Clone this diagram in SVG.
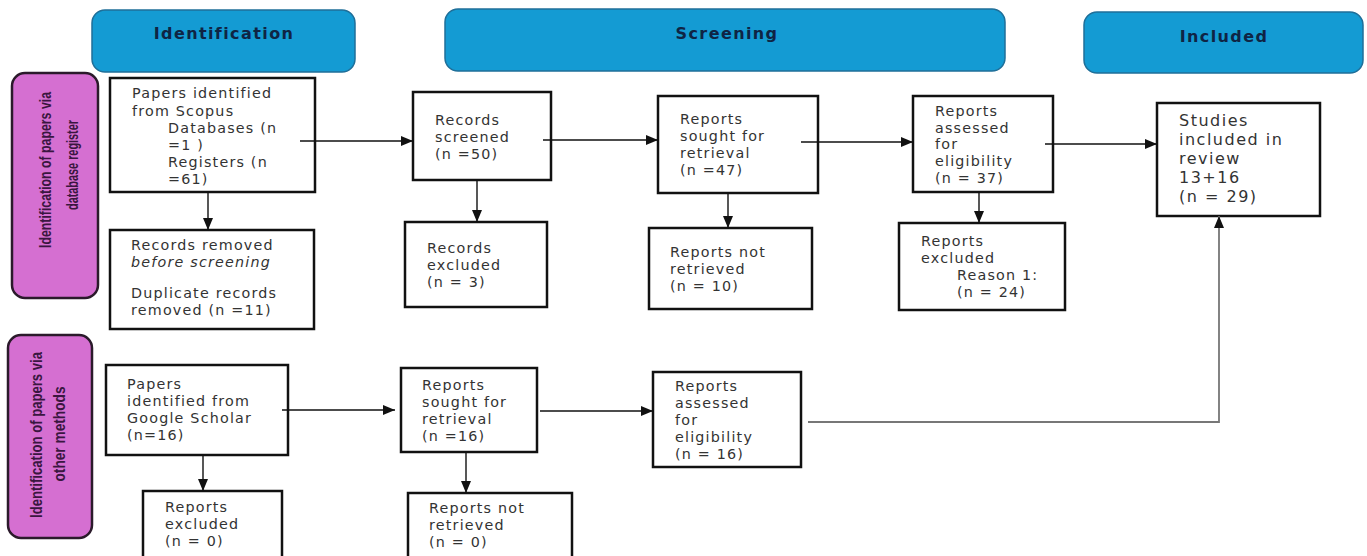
<svg xmlns="http://www.w3.org/2000/svg" width="1367" height="556" viewBox="0 0 1367 556">
<defs>
<style>
.hdr{fill:#149bd3;stroke:#1f6f99;stroke-width:1.5}
.hdrt{font-family:"DejaVu Sans",sans-serif;font-weight:bold;font-size:16px;fill:#0f2444;text-anchor:middle;letter-spacing:1.4px}
.side{fill:#d56fd1;stroke:#2b1a2b;stroke-width:2.5}
.sidet{font-family:"Liberation Sans",sans-serif;font-weight:bold;font-size:17px;fill:#3a1640;text-anchor:middle}
.sideb{font-family:"Liberation Sans",sans-serif;font-weight:bold;font-size:16px;fill:#3a1640;text-anchor:middle}
.box{fill:#fff;stroke:#111;stroke-width:2.5}
.t{font-family:"DejaVu Sans",sans-serif;font-size:14.3px;fill:#333;letter-spacing:1.2px}
.tl{font-family:"DejaVu Sans",sans-serif;font-size:16px;fill:#333;letter-spacing:1.5px}
.c{fill:none;stroke:#111;stroke-width:1.4}
.cg{fill:none;stroke:#777;stroke-width:1.8}
</style>
<marker id="ah" markerWidth="12" markerHeight="10" refX="12" refY="5" orient="auto" markerUnits="userSpaceOnUse">
<path d="M0,0 L12,5 L0,10 Z" fill="#111"/>
</marker>
</defs>
<rect width="1367" height="556" fill="#fff"/>

<g id="hdr-identification">
<rect class="hdr" x="92" y="10" width="263" height="62" rx="13"/>
<text class="hdrt" x="224" y="39">Identification</text>
</g>
<g id="hdr-screening">
<rect class="hdr" x="445" y="9" width="560" height="62" rx="13"/>
<text class="hdrt" x="727" y="39">Screening</text>
</g>
<g id="hdr-included">
<rect class="hdr" x="1084" y="12" width="279" height="61" rx="13"/>
<text class="hdrt" x="1224" y="42">Included</text>
</g>

<g id="side-database">
<rect class="side" x="12" y="73" width="86" height="225" rx="13"/>
<text class="sidet" transform="translate(51,170) rotate(-90)" textLength="156" lengthAdjust="spacingAndGlyphs">Identification of papers via</text>
<text class="sidet" transform="translate(78,165) rotate(-90)" textLength="90" lengthAdjust="spacingAndGlyphs">database register</text>
</g>
<g id="side-other">
<rect class="side" x="8" y="335" width="84" height="203" rx="13"/>
<text class="sideb" transform="translate(42,435) rotate(-90)" textLength="166" lengthAdjust="spacingAndGlyphs">Identification of papers via</text>
<text class="sideb" transform="translate(65,434) rotate(-90)" textLength="95" lengthAdjust="spacingAndGlyphs">other methods</text>
</g>

<g id="n-scopus">
<rect class="box" x="110" y="78" width="205" height="114"/>
<text class="t" x="132" y="98">Papers identified</text>
<text class="t" x="132" y="116">from Scopus</text>
<text class="t" x="168" y="133">Databases (n</text>
<text class="t" x="168" y="150">=1 )</text>
<text class="t" x="168" y="167">Registers (n</text>
<text class="t" x="168" y="184">=61)</text>
</g>
<g id="n-removed">
<rect class="box" x="110" y="230" width="204" height="99"/>
<text class="t" x="131" y="250">Records removed</text>
<text class="t" x="131" y="267" font-style="italic">before screening</text>
<text class="t" x="131" y="298">Duplicate records</text>
<text class="t" x="131" y="315">removed (n =11)</text>
</g>
<g id="n-screened">
<rect class="box" x="413" y="92" width="138" height="88"/>
<text class="t" x="435" y="125">Records</text>
<text class="t" x="435" y="142">screened</text>
<text class="t" x="435" y="159">(n =50)</text>
</g>
<g id="n-rec-excluded">
<rect class="box" x="405" y="222" width="142" height="85"/>
<text class="t" x="427" y="253">Records</text>
<text class="t" x="427" y="270">excluded</text>
<text class="t" x="427" y="287">(n = 3)</text>
</g>
<g id="n-sought47">
<rect class="box" x="658" y="96" width="160" height="97"/>
<text class="t" x="680" y="124">Reports</text>
<text class="t" x="680" y="141">sought for</text>
<text class="t" x="680" y="158">retrieval</text>
<text class="t" x="680" y="175">(n =47)</text>
</g>
<g id="n-notretrieved10">
<rect class="box" x="649" y="228" width="163" height="81"/>
<text class="t" x="670" y="257">Reports not</text>
<text class="t" x="670" y="274">retrieved</text>
<text class="t" x="670" y="291">(n = 10)</text>
</g>
<g id="n-assessed37">
<rect class="box" x="913" y="96" width="140" height="96"/>
<text class="t" x="935" y="116">Reports</text>
<text class="t" x="935" y="133">assessed</text>
<text class="t" x="935" y="149">for</text>
<text class="t" x="935" y="166">eligibility</text>
<text class="t" x="935" y="183">(n = 37)</text>
</g>
<g id="n-rep-excluded24">
<rect class="box" x="899" y="223" width="166" height="87"/>
<text class="t" x="921" y="246">Reports</text>
<text class="t" x="921" y="263">excluded</text>
<text class="t" x="957" y="280">Reason 1:</text>
<text class="t" x="957" y="297">(n = 24)</text>
</g>
<g id="n-included">
<rect class="box" x="1157" y="103" width="163" height="113"/>
<text class="tl" x="1179" y="126">Studies</text>
<text class="tl" x="1179" y="145">included in</text>
<text class="tl" x="1179" y="164">review</text>
<text class="tl" x="1179" y="183">13+16</text>
<text class="tl" x="1179" y="202">(n = 29)</text>
</g>
<g id="n-scholar">
<rect class="box" x="106" y="365" width="182" height="90"/>
<text class="t" x="127" y="389">Papers</text>
<text class="t" x="127" y="406">identified from</text>
<text class="t" x="127" y="423">Google Scholar</text>
<text class="t" x="127" y="440">(n=16)</text>
</g>
<g id="n-rep-excluded0">
<rect class="box" x="143" y="491" width="139" height="75"/>
<text class="t" x="165" y="512">Reports</text>
<text class="t" x="165" y="529">excluded</text>
<text class="t" x="165" y="546">(n = 0)</text>
</g>
<g id="n-sought16">
<rect class="box" x="401" y="368" width="136" height="84"/>
<text class="t" x="422" y="390">Reports</text>
<text class="t" x="422" y="407">sought for</text>
<text class="t" x="422" y="424">retrieval</text>
<text class="t" x="422" y="441">(n =16)</text>
</g>
<g id="n-notretrieved0">
<rect class="box" x="408" y="493" width="164" height="73"/>
<text class="t" x="429" y="513">Reports not</text>
<text class="t" x="429" y="530">retrieved</text>
<text class="t" x="429" y="547">(n = 0)</text>
</g>
<g id="n-assessed16">
<rect class="box" x="653" y="372" width="148" height="95"/>
<text class="t" x="675" y="391">Reports</text>
<text class="t" x="675" y="408">assessed</text>
<text class="t" x="675" y="425">for</text>
<text class="t" x="675" y="442">eligibility</text>
<text class="t" x="675" y="459">(n = 16)</text>
</g>

<g id="connectors">
<path class="c" d="M300,141 H413" marker-end="url(#ah)"/>
<path class="c" d="M208,192 V230" marker-end="url(#ah)"/>
<path class="c" d="M543,140 H658" marker-end="url(#ah)"/>
<path class="c" d="M477,180 V222" marker-end="url(#ah)"/>
<path class="c" d="M801,142 H913" marker-end="url(#ah)"/>
<path class="c" d="M728,193 V228" marker-end="url(#ah)"/>
<path class="c" d="M1045,144 H1157" marker-end="url(#ah)"/>
<path class="c" d="M979,192 V223" marker-end="url(#ah)"/>
<path class="cg" d="M808,422 H1219 V216" marker-end="url(#ah)"/>
<path class="c" d="M282,410 H395" marker-end="url(#ah)"/>
<path class="c" d="M203,455 V491" marker-end="url(#ah)"/>
<path class="c" d="M540,411 H653" marker-end="url(#ah)"/>
<path class="c" d="M466,452 V493" marker-end="url(#ah)"/>
</g>
</svg>
